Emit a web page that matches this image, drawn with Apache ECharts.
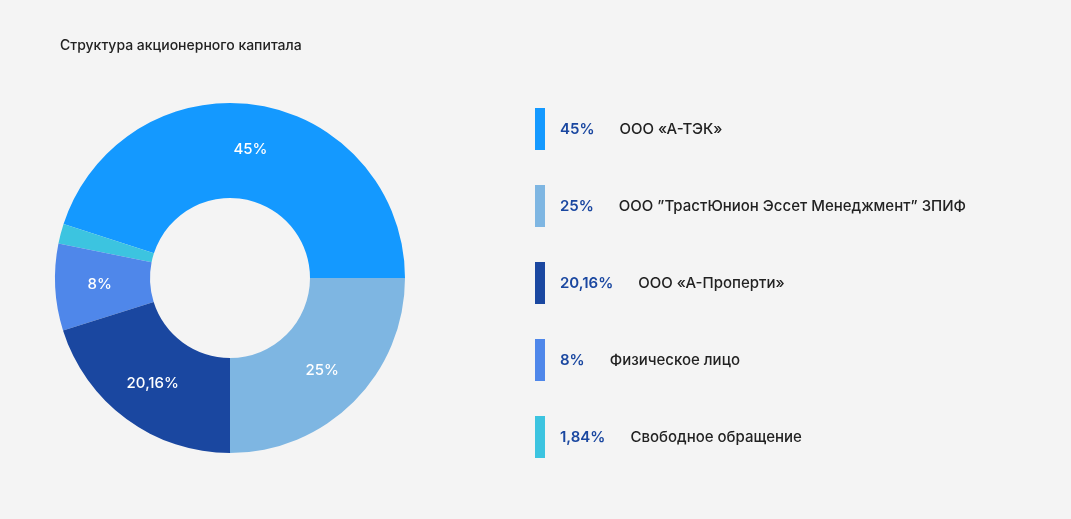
<!DOCTYPE html>
<html>
<head>
<meta charset="utf-8">
<script src="https://cdn.jsdelivr.net/npm/echarts@6/dist/echarts.min.js"></script>
<style>html,body{margin:0;background:#f4f4f4;}#c{width:1071px;height:519px;}</style>
</head>
<body>
<div id="c"></div>
<script>
var names = ['ООО «А-ТЭК»', 'Свободное обращение', 'Физическое лицо', 'ООО «А-Проперти»', 'ООО ”ТрастЮнион Эссет Менеджмент” ЗПИФ'];
var values = [45, 1.84, 8, 20.16, 25];
var labels = ['45%', '1,84%', '8%', '20,16%', '25%'];
var colors = ['#1499ff', '#3cc4e0', '#4f87ea', '#1a47a0', '#7eb6e2'];
var legendOrder = [0, 4, 3, 2, 1];

var chart = echarts.init(document.getElementById('c'));
var data = values.map(function (v, i) {
    return { value: v, name: names[i], itemStyle: { color: colors[i] },
             label: { show: i !== 1, formatter: labels[i] } };
});
chart.setOption({
    backgroundColor: '#f4f4f4',
    textStyle: { fontFamily: 'Inter' },
    title: { text: 'Структура акционерного капитала', left: 55, top: 34,
             textStyle: { fontSize: 14, fontWeight: 500, color: '#222', fontFamily: 'Inter' } },
    legend: {
        orient: 'vertical', left: 530, top: 103, icon: 'rect',
        itemWidth: 10, itemHeight: 42, itemGap: 35,
        data: legendOrder.map(function (i) { return names[i]; }),
        formatter: function (n) {
            var i = names.indexOf(n);
            return '{p|' + labels[i] + '}{n|' + n + '}';
        },
        textStyle: {
            rich: {
                p: { color: '#1a47a0', fontSize: 15, fontWeight: 600, padding: [0, 25, 0, 10], fontFamily: 'Inter' },
                n: { color: '#222', fontSize: 15, fontWeight: 500, fontFamily: 'Inter' }
            }
        }
    },
    series: [{
        type: 'pie', center: [230, 278], radius: [80, 175],
        startAngle: 0, clockwise: false, silent: true,
        label: { position: 'inside', color: '#fff', fontSize: 15, fontWeight: 500, fontFamily: 'Inter' },
        labelLine: { show: false },
        data: data
    }]
});
</script>
</body>
</html>
